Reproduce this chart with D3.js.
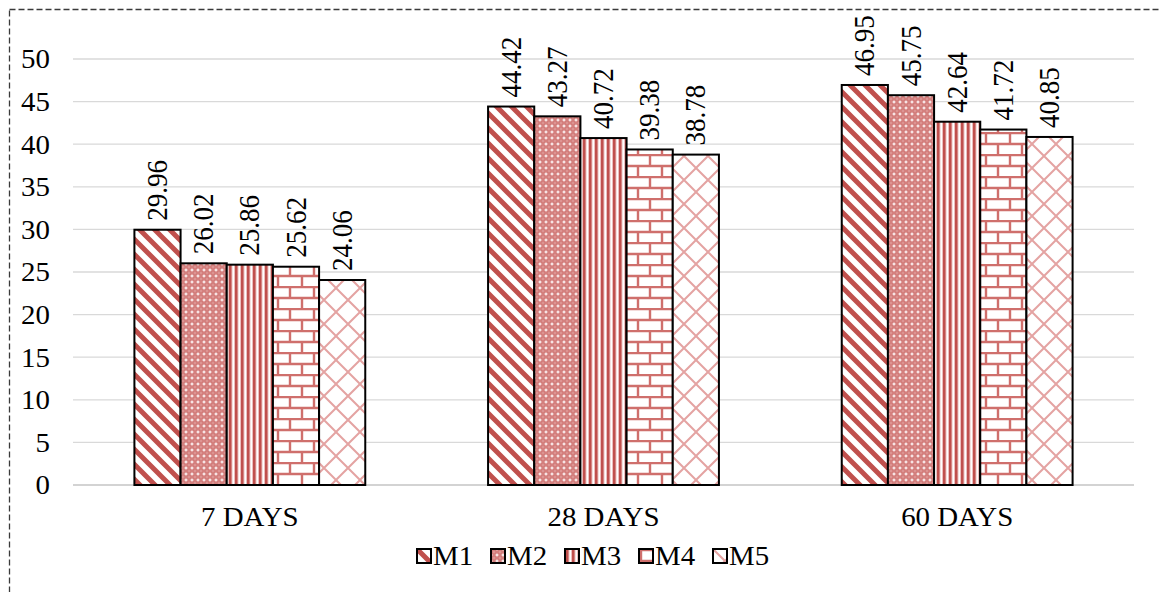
<!DOCTYPE html>
<html>
<head>
<meta charset="utf-8">
<script src="https://cdn.jsdelivr.net/npm/d3@7"></script>
<style>
  html, body { margin: 0; padding: 0; background: #fff; }
  svg { display: block; }
  text { font-family: "Liberation Serif", "Times New Roman", serif; fill: #000; }
</style>
</head>
<body>
<svg id="chart" width="1161" height="592"></svg>
<script>
// Compressive strength by curing age for mixes M1..M5
const categories = ["7 DAYS", "28 DAYS", "60 DAYS"];
const seriesNames = ["M1", "M2", "M3", "M4", "M5"];
const M1 = [29.96, 44.42, 46.95];
const M2 = [26.02, 43.27, 45.75];
const M3 = [25.86, 40.72, 42.64];
const M4 = [25.62, 39.38, 41.72];
const M5 = [24.06, 38.78, 40.85];
const yTicks = [0, 5, 10, 15, 20, 25, 30, 35, 40, 45, 50];

const seriesValues = { M1, M2, M3, M4, M5 };
const red = "#C0504D";
const fontSize = 27;
const stretch = 1.07; // slight horizontal widening of the lettering

const svg = d3.select("#chart");
svg.append("rect").attr("width", 1161).attr("height", 592).attr("fill", "#fff");

// Fill patterns, one per mix
const defs = svg.append("defs");

// M1: wide downward diagonal
const p1 = defs.append("pattern").attr("id", "pat-M1").attr("patternUnits", "userSpaceOnUse")
  .attr("width", 15).attr("height", 15);
p1.append("rect").attr("width", 15).attr("height", 15).attr("fill", "#fff");
p1.append("path").attr("d", "M-7.5,-7.5L22.5,22.5M-15,0L15,30M0,-15L30,15")
  .attr("stroke", red).attr("stroke-width", 5).attr("fill", "none");

// M2: small checker with crosses
const p2 = defs.append("pattern").attr("id", "pat-M2").attr("patternUnits", "userSpaceOnUse")
  .attr("width", 6).attr("height", 6);
p2.append("rect").attr("width", 6).attr("height", 6).attr("fill", "#c55855");
p2.append("rect").attr("x", 0).attr("y", 2.5).attr("width", 6).attr("height", 1).attr("fill", "#e4a8a7");
p2.append("rect").attr("x", 2.5).attr("y", 0).attr("width", 1).attr("height", 6).attr("fill", "#e4a8a7");
p2.append("rect").attr("x", 0).attr("y", 0).attr("width", 1.5).attr("height", 1.5).attr("fill", "#f7e4e4");
p2.append("rect").attr("x", 4.5).attr("y", 4.5).attr("width", 1.5).attr("height", 1.5).attr("fill", "#f7e4e4");
p2.append("rect").attr("x", 4.5).attr("y", 0).attr("width", 1.5).attr("height", 1.5).attr("fill", "#f7e4e4");
p2.append("rect").attr("x", 0).attr("y", 4.5).attr("width", 1.5).attr("height", 1.5).attr("fill", "#f7e4e4");

// M3: narrow vertical lines
const p3 = defs.append("pattern").attr("id", "pat-M3").attr("patternUnits", "userSpaceOnUse")
  .attr("width", 6).attr("height", 6);
p3.append("rect").attr("width", 6).attr("height", 6).attr("fill", "#fff");
p3.append("rect").attr("x", 0).attr("width", 4.5).attr("height", 6).attr("fill", "#ebbfbe");
p3.append("rect").attr("x", 1).attr("width", 2.5).attr("height", 6).attr("fill", red);

// M4: horizontal brick
const p4 = defs.append("pattern").attr("id", "pat-M4").attr("patternUnits", "userSpaceOnUse")
  .attr("width", 24).attr("height", 22);
p4.append("rect").attr("width", 24).attr("height", 22).attr("fill", "#fff");
p4.append("path").attr("d", "M0,1L24,1M0,12L24,12M2,1L2,12M14,12L14,22")
  .attr("stroke", "#cf6f6c").attr("stroke-width", 2.4).attr("fill", "none");

// M5: wide diagonal trellis
const p5 = defs.append("pattern").attr("id", "pat-M5").attr("patternUnits", "userSpaceOnUse")
  .attr("width", 24).attr("height", 24);
p5.append("rect").attr("width", 24).attr("height", 24).attr("fill", "#fff");
p5.append("path").attr("d", "M-2,-2L26,26M-2,26L26,-2")
  .attr("stroke", "#e4a3a2").attr("stroke-width", 2).attr("fill", "none");

// Dashed outer frame
svg.append("rect").attr("x", 9.5).attr("y", 9.5).attr("width", 1170).attr("height", 620)
  .attr("fill", "none").attr("stroke", "#3a3a3a").attr("stroke-width", 1.3)
  .attr("stroke-dasharray", "6,3");

// Scales
const x = d3.scaleBand().domain(categories).range([73, 1134]).paddingInner(0).paddingOuter(0);
const xSub = d3.scaleBand().domain(seriesNames).range([0, x.bandwidth()])
  .paddingInner(0).paddingOuter(1.33);
const y = d3.scaleLinear().domain([0, 50]).range([485, 59]);

// Gridlines
svg.append("g").selectAll("line").data(yTicks).join("line")
  .attr("x1", 73).attr("x2", 1134)
  .attr("y1", d => y(d)).attr("y2", d => y(d))
  .attr("stroke", d => d === 0 ? "#c4c4c4" : "#d9d9d9").attr("stroke-width", 1.3);

// Y tick labels
svg.append("g").selectAll("text").data(yTicks).join("text")
  .attr("transform", d => `translate(50,${y(d)}) scale(${stretch},1)`)
  .attr("dy", "0.35em")
  .attr("text-anchor", "end").attr("font-size", fontSize).text(d => d);

// Bars
const rows = [];
categories.forEach((c, ci) => {
  seriesNames.forEach(s => rows.push({ cat: c, series: s, value: seriesValues[s][ci] }));
});

const bars = svg.append("g");
bars.selectAll("rect").data(rows).join("rect")
  .attr("x", d => x(d.cat) + xSub(d.series))
  .attr("y", d => y(d.value))
  .attr("width", xSub.bandwidth())
  .attr("height", d => y(0) - y(d.value))
  .attr("fill", d => `url(#pat-${d.series})`)
  .attr("stroke", "#000").attr("stroke-width", 2);

// Value labels, rotated
svg.append("g").selectAll("text").data(rows).join("text")
  .attr("transform", d => {
    const cx = x(d.cat) + xSub(d.series) + xSub.bandwidth() / 2;
    return `translate(${cx},${y(d.value) - 9}) scale(${stretch},1) rotate(-90)`;
  })
  .attr("dy", "0.33em")
  .attr("text-anchor", "start").attr("font-size", fontSize)
  .text(d => d.value.toFixed(2));

// Category labels
svg.append("g").selectAll("text").data(categories).join("text")
  .attr("transform", d => `translate(${x(d) + x.bandwidth() / 2},526) scale(${stretch},1)`)
  .attr("text-anchor", "middle").attr("font-size", fontSize).text(d => d);

// Legend
const legend = svg.append("g").attr("transform", "translate(417,549)");
const item = legend.selectAll("g").data(seriesNames).join("g")
  .attr("transform", (d, i) => `translate(${i * 74},0)`);
item.append("rect").attr("width", 14).attr("height", 14)
  .attr("fill", d => `url(#pat-${d})`).attr("stroke", "#000").attr("stroke-width", 2);
item.append("text").attr("transform", `translate(16,16) scale(${stretch},1)`)
  .attr("font-size", fontSize).text(d => d);
</script>
</body>
</html>
